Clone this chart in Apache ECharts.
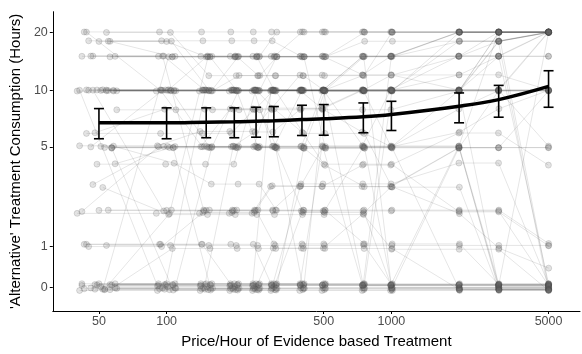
<!DOCTYPE html>
<html>
<head>
<meta charset="utf-8">
<script src="https://cdn.jsdelivr.net/npm/echarts@6/dist/echarts.min.js"></script>
<style>
  html, body { margin: 0; padding: 0; background: #fff; }
  #chart { width: 582px; height: 354px; }
</style>
</head>
<body>
<div id="chart"></div>
<script>
// Price levels offered for an hour of evidence-based treatment
const prices = [50, 100, 150, 200, 250, 300, 400, 500, 750, 1000, 2000, 3000, 5000];

// Group summary at each price (hours of alternative treatment)
const meanHours  = [6.76, 6.76, 6.81, 6.84, 6.89, 6.93, 7.04, 7.10, 7.27, 7.48, 8.27, 8.96, 10.50];
const upperHours = [8.04, 8.11, 8.11, 8.11, 8.17, 8.24, 8.37, 8.44, 8.61, 8.78, 9.71, 10.63, 12.66];
const lowerHours = [5.55, 5.55, 5.62, 5.62, 5.66, 5.69, 5.78, 5.80, 5.98, 6.15, 6.76, 7.24, 8.17];

// Tick labels
const xTickPrices = [50, 100, 500, 1000, 5000];
const yTickHours = [0, 1, 5, 10, 20];

// Individual responses, one row per participant, one value per price
const consumption = [
  [0,0,0,0,0,0,0,0,0,0,0,0,0],
  [0,0,0,0,0,0,0,0,0,0,0,0,0],
  [0,0,0,0,0,0,0,0,0,0,0,0,0],
  [0,0,0,0,0,0,0,0,0,0,0,0,0],
  [0,0,0,0,0,0,0,0,0,0,0,0,20],
  [0,0,0,0,0,0,0,0,0,0,5,10,20],
  [0,0,0,0,0,0,2,2,5,5,10,15,20],
  [0,0,0,0,0,0,0,0,0,10,10,20,20],
  [0,0,0,0,0,1,1,1,2,3,5,5,10],
  [10,10,10,10,10,10,10,10,10,10,10,10,10],
  [10,10,10,10,10,10,10,10,10,10,10,20,20],
  [10,10,10,10,10,10,10,10,15,15,20,20,20],
  [10,10,10,10,10,10,10,10,10,10,10,18,0],
  [10,10,15,15,15,15,20,20,20,20,20,20,20],
  [10,10,10,10,10,5,5,5,0,0,0,0,0],
  [10,10,10,12,12,15,15,15,18,18,18,18,20],
  [10,10,10,10,10,10,10,10,10,10,12,12,10],
  [10,10,5,5,5,5,2,2,2,0,0,0,0],
  [20,20,20,20,20,20,20,20,20,20,20,20,20],
  [18,18,15,15,15,15,15,15,15,15,18,18,20],
  [15,15,15,15,15,20,20,20,20,20,20,20,20],
  [15,15,10,10,10,10,10,10,5,5,5,0,0],
  [18,15,15,15,12,12,12,10,10,10,10,18,20],
  [15,15,15,15,15,15,15,15,15,15,15,15,15],
  [5,5,5,5,5,5,5,5,5,5,5,5,5],
  [5,5,6,6,6,8,8,8,10,10,15,15,20],
  [5,5,5,5,5,5,5,4,3,3,2,1,0.5],
  [5,10,10,10,10,10,10,10,10,10,10,10,10],
  [5,5,5,5,5,5,10,10,10,12,12,15,15],
  [6,6,6,6,8,8,8,8,8,8,10,10,10],
  [5,4,3,3,3,2,2,2,1,1,1,0,0],
  [6,8,8,8,8,10,10,10,12,12,15,18,20],
  [2,2,2,2,2,2,2,2,2,2,2,2,1],
  [2,2,2,2,2,3,3,3,3,3,5,5,5],
  [1,1,1,1,1,1,1,1,1,1,1,1,1],
  [1,1,1,1,1,0,0,0,0,0,0,0,0],
  [3,2,2,2,2,2,2,2,2,1,1,1,0],
  [4,5,5,5,5,5,5,5,5,5,6,8,10],
  [1,1,2,2,2,3,3,5,5,5,8,10,10],
  [2,2,2,2,2,1,1,1,1,0,0,0,0],
  [0,1,1,1,1,1,1,1,1,1,0,0,0],
  [3,5,5,5,6,6,8,8,10,10,10,10,10],
  [0,0,0,0,0,0,0,5,5,10,10,10,20],
  [0,0,0,0,0,0,0,0,0,0,0,0,0],
  [0,0,10,10,10,10,10,10,0,0,0,0,0],
  [0,2,15,15,15,15,15,15,15,0,0,0,0],
  [20,10,5,5,5,10,10,10,15,15,20,20,0],
  [5,0,0,0,0,0,5,10,10,10,20,20,20],
  [10,0,0,0,0,10,10,8,6,5,5,0,0],
  [18,18,10,10,5,5,0,0,0,0,0,0,0],
  [0,0,0,5,5,5,5,10,15,15,20,20,20],
  [10,10,10,15,15,15,15,5,5,5,0,0,0],
  [15,15,2,2,2,2,3,3,3,3,4,4,0],
  [10,10,10,10,10,8,6,4,4,4,2,2,1],
  [0,0,0,0,0,0,3,3,4,4,6,6,4],
  [10,10,10,10,10,10,10,10,10,10,18,18,20],
  [0,15,15,15,15,10,10,10,10,5,5,0,0],
  [18,18,18,18,18,18,15,15,12,12,10,10,5],
  [0,0,5,10,10,15,15,15,20,20,20,20,20],
  [10,2,2,2,2,2,2,2,2,2,2,2,0],
  [15,15,15,10,10,10,6,6,6,3,3,0,0],
  [2,5,5,8,8,8,12,12,12,15,15,20,20],
  [0,0,0,0,0,0,0,0,0,15,15,15,0],
  [5,5,0,0,0,0,0,10,10,10,10,10,10],
  [1,1,1,0,0,0,0,0,0,0,5,20,20],
  [20,20,12,12,12,12,12,12,12,20,20,20,20],
  [4,4,4,4,10,10,10,10,10,10,10,0,0],
  [8,8,8,8,8,5,5,5,5,0,0,0,0]
];

// Jitter per participant (price units and hours) to separate overlapping responses
const jitterPrice = [
  -8, 3, 9, -4, 6, -9, 1, 7,
  -2, -6, 4, 8, -10, 2, -5, 10,
  -1, 5, -7, 0, 9, -3, 6, -8,
  3, -9, 7, -4, 1, -6, 8, -2,
  5, -10, 4, -7, 2, 9, -5, 0,
  6, -3, -8, 10, -1, 3, -6, 7,
  -9, 5, -2, 8, -4, 1, -7, 4,
  2, -5, 9, -3, 6, -8, 0, 7, -6, 4, -1, 10
];
const jitterHours = [
  0.04, -0.06, 0.08, -0.02, 0.06, -0.08, 0.01, 0.05,
  -0.05, 0.07, -0.03, 0.02, -0.07, 0.08, 0.03, -0.04,
  0.06, -0.01, 0.05, -0.08, 0.02, 0.07, -0.06, 0.03,
  -0.03, 0.08, -0.05, 0.01, 0.04, -0.07, 0.06, -0.02,
  0.07, -0.04, 0.02, 0.05, -0.08, 0.03, -0.01, 0.06,
  -0.06, 0.04, 0.08, -0.03, 0.05, -0.05, 0.02, -0.07,
  0.03, -0.02, 0.06, -0.06, 0.07, 0.01, -0.04, 0.05,
  -0.05, 0.06, -0.02, 0.04, -0.07, 0.02, 0.08, -0.03, 0.05, -0.06, 0.01, -0.08
];

// Axis transforms: log10 for price, pseudo-log (asinh, sigma = 1) for hours
const tx = p => Math.log10(p);
const ty = h => Math.asinh(h / 2);
const invY = v => 2 * Math.sinh(v);

const FONT = '"Liberation Sans", Arial, Helvetica, sans-serif';

const series = [];

consumption.forEach((row, i) => {
  series.push({
    type: 'line',
    data: row.map((h, j) => [tx(prices[j] + jitterPrice[i]), ty(h + jitterHours[i])]),
    symbol: 'circle',
    symbolSize: 6,
    itemStyle: {
      color: 'rgba(100,100,100,0.18)',
      borderColor: 'rgba(70,70,70,0.22)',
      borderWidth: 0.8
    },
    lineStyle: { color: 'rgba(0,0,0,0.13)', width: 0.8 },
    silent: true,
    animation: false,
    z: 1
  });
});

// Error bars
series.push({
  type: 'custom',
  data: prices.map((p, j) => [tx(p), ty(lowerHours[j]), ty(upperHours[j])]),
  encode: { x: 0, y: [1, 2] },
  renderItem: (params, api) => {
    const lo = api.coord([api.value(0), api.value(1)]);
    const hi = api.coord([api.value(0), api.value(2)]);
    const w = 5;
    const style = { stroke: '#000', lineWidth: 1.6, fill: null };
    return {
      type: 'group',
      children: [
        { type: 'line', shape: { x1: lo[0], y1: lo[1], x2: hi[0], y2: hi[1] }, style },
        { type: 'line', shape: { x1: lo[0] - w, y1: lo[1], x2: lo[0] + w, y2: lo[1] }, style },
        { type: 'line', shape: { x1: hi[0] - w, y1: hi[1], x2: hi[0] + w, y2: hi[1] }, style }
      ]
    };
  },
  silent: true,
  animation: false,
  z: 5
});

// Mean trend
series.push({
  type: 'line',
  data: prices.map((p, j) => [tx(p), ty(meanHours[j])]),
  smooth: 0.4,
  symbol: 'none',
  lineStyle: { color: '#000', width: 3.5 },
  silent: true,
  animation: false,
  z: 6
});

const chart = echarts.init(document.getElementById('chart'), null, { renderer: 'canvas' });
chart.setOption({
  animation: false,
  backgroundColor: '#fff',
  grid: { left: 48.5, right: 2, top: 11.7, bottom: 41.7, containLabel: false },
  xAxis: {
    type: 'value',
    min: tx(31.17),
    max: tx(6900),
    splitLine: { show: false },
    axisLine: { show: true, onZero: false, lineStyle: { color: '#000', width: 1 } },
    axisTick: { show: true, length: 3, customValues: xTickPrices.map(tx), lineStyle: { color: '#000' } },
    axisLabel: {
      customValues: xTickPrices.map(tx),
      formatter: v => String(Math.round(Math.pow(10, v))),
      color: '#4d4d4d',
      fontSize: 12.5,
      fontFamily: FONT,
      margin: 4
    },
    name: 'Price/Hour of Evidence based Treatment',
    nameLocation: 'middle',
    nameGap: 23,
    nameTextStyle: { color: '#000', fontSize: 15, fontFamily: FONT }
  },
  yAxis: {
    type: 'value',
    min: -0.281,
    max: 3.239,
    splitLine: { show: false },
    axisLine: { show: true, onZero: false, lineStyle: { color: '#000', width: 1 } },
    axisTick: { show: true, length: 3, customValues: yTickHours.map(ty), lineStyle: { color: '#000' } },
    axisLabel: {
      customValues: yTickHours.map(ty),
      formatter: v => String(Math.round(invY(v))),
      color: '#4d4d4d',
      fontSize: 12.5,
      fontFamily: FONT,
      margin: 5
    },
    name: "'Alternative' Treatment Consumption (Hours)",
    nameLocation: 'middle',
    nameGap: 18,
    nameTextStyle: { color: '#000', fontSize: 15, fontFamily: FONT }
  },
  series
});
</script>
</body>
</html>
